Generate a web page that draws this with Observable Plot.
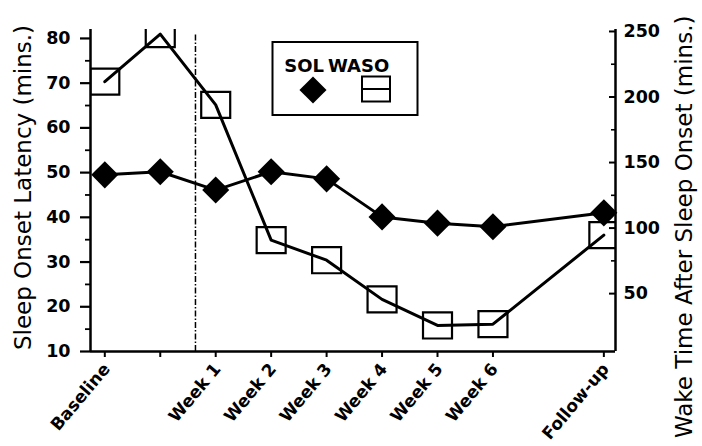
<!DOCTYPE html>
<html>
<head>
<meta charset="utf-8">
<script src="https://cdn.jsdelivr.net/npm/d3@7"></script>
<script src="https://cdn.jsdelivr.net/npm/@observablehq/plot@0.6"></script>
<style>
  html, body { margin: 0; padding: 0; background: #fff; }
  #chart svg { display: block; }
</style>
</head>
<body>
<div id="chart"></div>
<script>
// ---- data ----
const xIndex = [0, 1, 2, 3, 4, 5, 6, 7, 9];
const xLabels = ["Baseline", "", "Week 1", "Week 2", "Week 3", "Week 4", "Week 5", "Week 6", "Follow-up"];
const solValues = [49.5, 50.2, 46.1, 50.2, 48.6, 40.1, 38.7, 37.9, 41.0];      // Sleep Onset Latency (mins.)
const wasoValues = [211.7, 248, 194, 90.8, 75.5, 45.6, 25.7, 26.7, 94.6];     // Wake Time After Sleep Onset (mins.)
const leftTicks = [10, 20, 30, 40, 50, 60, 70, 80];
const leftMinorTicks = [15, 25, 35, 45, 55, 65, 75];
const rightTicks = [50, 100, 150, 200, 250];
const rightMinorTicks = [75, 125, 175, 225];
const interventionX = 1.635;
const seriesNames = ["SOL", "WASO"];
const leftTitle = "Sleep Onset Latency (mins.)";
const rightTitle = "Wake Time After Sleep Onset (mins.)";

// ---- scales / layout ----
const W = 702, H = 446, ML = 90, MR = 87, MT = 29, MB = 95;
const xDomain = [-0.258, 9.21];
const leftDomain = [10, 82];
const rightDomain = [5.84, 251.5];
const toLeft = d3.scaleLinear().domain(rightDomain).range(leftDomain);
const xPerPx = (xDomain[1] - xDomain[0]) / (W - ML - MR);
const yPerPx = (leftDomain[1] - leftDomain[0]) / (H - MT - MB);

const rows = xIndex.map((x, i) => ({x, label: xLabels[i], sol: solValues[i], waso: wasoValues[i]}));

const boxSymbol = {
  draw(context, size) {
    const r = Math.sqrt(size / Math.PI);
    const w = r, h = r * 0.9;
    context.moveTo(-w, -h);
    context.lineTo(w, -h);
    context.lineTo(w, h);
    context.lineTo(-w, h);
    context.closePath();
  }
};

const FONT = "DejaVu Sans";

const chart = Plot.plot({
  width: W,
  height: H,
  marginLeft: ML,
  marginRight: MR,
  marginTop: MT,
  marginBottom: MB,
  style: {fontFamily: FONT, background: "#fff", color: "#000"},
  x: {domain: xDomain, axis: null},
  y: {domain: leftDomain, axis: null},
  marks: [
    // axis lines
    Plot.ruleX([xDomain[0], xDomain[1]], {stroke: "#000", strokeWidth: 2.5}),
    Plot.ruleY([leftDomain[0]], {stroke: "#000", strokeWidth: 2.5}),
    // left axis: ticks point outward (left)
    Plot.ruleY(leftTicks, {y: d => d, x1: xDomain[0], x2: xDomain[0] + 10 * xPerPx, dx: -10, stroke: "#000", strokeWidth: 2.2}),
    Plot.ruleY(leftMinorTicks, {y: d => d, x1: xDomain[0], x2: xDomain[0] + 5 * xPerPx, dx: -5, stroke: "#000", strokeWidth: 1.8}),
    Plot.text(leftTicks, {y: d => d, text: d => String(d), frameAnchor: "left", textAnchor: "end",
      dx: -20, fontSize: 17.5, fontWeight: "bold", fill: "#000"}),
    // right axis (WASO scale mapped onto the frame): ticks point inward
    Plot.ruleY(rightTicks, {y: d => toLeft(d), x1: xDomain[1] - 6 * xPerPx, x2: xDomain[1], stroke: "#000", strokeWidth: 2}),
    Plot.ruleY(rightMinorTicks, {y: d => toLeft(d), x1: xDomain[1] - 4 * xPerPx, x2: xDomain[1], stroke: "#000", strokeWidth: 1.6}),
    Plot.text(rightTicks, {y: d => toLeft(d), text: d => String(d), frameAnchor: "right", textAnchor: "start",
      dx: 8, fontSize: 17.5, fontWeight: "bold", fill: "#000"}),
    // x axis ticks and rotated labels
    Plot.ruleX(xIndex, {x: d => d, y1: leftDomain[0], y2: leftDomain[0] - 6 * yPerPx, stroke: "#000", strokeWidth: 2}),
    Plot.text(rows, {x: "x", text: "label", frameAnchor: "bottom", rotate: -50,
      textAnchor: "end", dy: 18, dx: 6, fontSize: 17, fontWeight: "bold", fill: "#000"}),
    // intervention line
    Plot.ruleX([interventionX], {y1: leftDomain[0], y2: 80.9, stroke: "#000",
      strokeWidth: 1.5, strokeDasharray: "6,2,1.5,2"}),
    // series lines
    Plot.line(rows, {x: "x", y: "sol", stroke: "#000", strokeWidth: 3}),
    Plot.line(rows, {x: "x", y: d => toLeft(d.waso), stroke: "#000", strokeWidth: 3}),
    // markers
    Plot.dot(rows, {x: "x", y: d => toLeft(d.waso), symbol: boxSymbol, r: 14.5,
      stroke: "#000", strokeWidth: 2.2, fill: "none", clip: true}),
    Plot.dot(rows, {x: "x", y: "sol", symbol: "diamond2", r: 12.2, fill: "#000", stroke: "none"})
  ]
});

document.getElementById("chart").appendChild(chart);

// ---- axis titles and inset legend ----
const svg = d3.select(chart);
svg.append("text")
  .attr("transform", "translate(30.5,187.5) rotate(-90)")
  .attr("text-anchor", "middle")
  .attr("font-family", FONT).attr("font-size", 23).attr("fill", "#000")
  .text(leftTitle);
svg.append("text")
  .attr("transform", "translate(692,438) rotate(-90)")
  .attr("text-anchor", "start")
  .attr("font-family", FONT).attr("font-size", 23).attr("fill", "#000")
  .text(rightTitle);

const lg = svg.append("g");
lg.append("rect").attr("x", 272.5).attr("y", 42).attr("width", 145).attr("height", 73)
  .attr("fill", "#fff").attr("stroke", "#000").attr("stroke-width", 2);
lg.append("text").attr("x", 324).attr("y", 72).attr("text-anchor", "end")
  .attr("font-family", FONT).attr("font-weight", "bold").attr("font-size", 18).text(seriesNames[0]);
lg.append("text").attr("x", 328).attr("y", 72).attr("text-anchor", "start")
  .attr("font-family", FONT).attr("font-weight", "bold").attr("font-size", 18).text(seriesNames[1]);
lg.append("path").attr("transform", "translate(313,90)")
  .attr("d", d3.symbol(d3.symbolDiamond2, Math.PI * 12.2 * 12.2)()).attr("fill", "#000");
lg.append("rect").attr("x", 362).attr("y", 76.5).attr("width", 28).attr("height", 25)
  .attr("fill", "none").attr("stroke", "#000").attr("stroke-width", 2);
lg.append("line").attr("x1", 362).attr("x2", 390).attr("y1", 89).attr("y2", 89)
  .attr("stroke", "#000").attr("stroke-width", 2);
</script>
</body>
</html>
